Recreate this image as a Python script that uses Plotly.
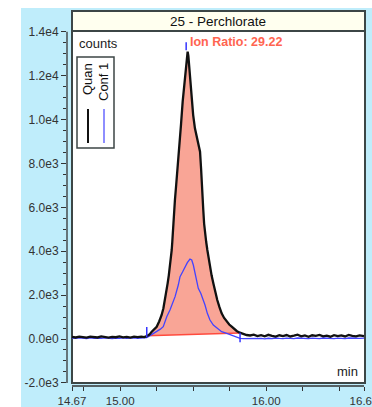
import plotly.graph_objects as go

# ---- chromatogram data: 25 - Perchlorate (retention time in min, intensity in counts) ----
left_times = [14.670, 14.695, 14.720, 14.745, 14.770, 14.795, 14.820, 14.845, 14.870, 14.895,
              14.920, 14.945, 14.970, 14.995, 15.020, 15.045, 15.070, 15.095, 15.120, 15.145, 15.165]
right_times = [15.890, 15.915, 15.940, 15.965, 15.990, 16.015, 16.040, 16.065, 16.090, 16.115,
               16.140, 16.165, 16.190, 16.215, 16.240, 16.265, 16.290, 16.315, 16.340, 16.365,
               16.390, 16.415, 16.440, 16.465, 16.490, 16.515, 16.540, 16.565, 16.590, 16.615,
               16.640, 16.670]

# Quan trace
quan_left = [95, 70, 105, 80, 60, 110, 85, 70, 120, 90, 65, 100, 80, 115, 75, 95, 60, 105, 85, 110, 90]
quan_peak_time = [15.182, 15.200, 15.216, 15.233, 15.250, 15.267, 15.284, 15.296, 15.307, 15.316,
                  15.325, 15.333, 15.341, 15.347, 15.353, 15.357, 15.360, 15.365, 15.369, 15.375,
                  15.384, 15.394, 15.405, 15.417, 15.428, 15.440, 15.450, 15.458, 15.462, 15.467,
                  15.476, 15.483, 15.490, 15.500, 15.512, 15.524, 15.535, 15.547, 15.554, 15.562,
                  15.569, 15.575, 15.581, 15.589, 15.597, 15.606, 15.615, 15.626, 15.638, 15.651,
                  15.665, 15.680, 15.695, 15.712, 15.730, 15.747, 15.764, 15.781, 15.798, 15.815,
                  15.832, 15.849, 15.866]
quan_peak = [130, 200, 333, 440, 560, 800, 1093, 1400, 1777, 2150,
             2537, 2900, 3295, 3680, 4055, 4430, 4815, 5300, 5572, 6333,
             7050, 7790, 8800, 9800, 10810, 11700, 12500, 13000, 13090, 12900,
             12100, 11400, 10810, 10200, 9600, 9200, 8840, 8530, 7777, 7016,
             5900, 5250, 4815, 4430, 4055, 3650, 3295, 2900, 2537, 2150,
             1777, 1450, 1170, 960, 790, 660, 560, 450, 365, 300,
             260, 210, 182]
quan_right = [160, 200, 130, 175, 120, 190, 145, 110, 170, 135, 180, 115, 150, 195, 125, 160,
              100, 170, 140, 185, 120, 155, 105, 175, 130, 160, 115, 185, 140, 120, 165, 135]

# Conf 1 trace
conf_left = [40, 25, 55, 35, 20, 50, 30, 45, 25, 55, 35, 20, 45, 30, 50, 25, 40, 55, 30, 45, 35]
conf_peak_time = [15.182, 15.215, 15.250, 15.275, 15.295, 15.319, 15.341, 15.357, 15.376, 15.398,
                  15.410, 15.428, 15.444, 15.460, 15.478, 15.490, 15.501, 15.517, 15.535, 15.552,
                  15.565, 15.581, 15.597, 15.615, 15.638, 15.665, 15.695, 15.730, 15.764, 15.798,
                  15.821, 15.845, 15.865]
conf_peak = [60, 200, 333, 450, 560, 1016, 1321, 1625, 1929, 2460,
             2840, 3066, 3295, 3478, 3645, 3600, 3371, 2916, 2310, 2082,
             1854, 1549, 1170, 866, 638, 487, 333, 258, 182, 105,
             32, 20, 25]
conf_right = [30, 15, 40, 25, 10, 35, 20, 45, 25, 15, 40, 30, 20, 45, 25, 35,
              15, 40, 30, 20, 45, 25, 35, 15, 40, 30, 20, 45, 25, 35, 30, 40]

# integration window and its baseline
window_time = [15.182, 15.821]
baseline_counts = [150, 270]
ion_ratio = 29.22

# axis ticks
y_tick_vals = [-2000, 0, 2000, 4000, 6000, 8000, 10000, 12000, 14000]
y_tick_text = ["-2.0e3", "0.0e0", "2.0e3", "4.0e3", "6.0e3", "8.0e3", "1.0e4", "1.2e4", "1.4e4"]
x_tick_vals = [14.67, 15.00, 16.00, 16.67]
x_tick_text = ["14.67", "15.00", "16.00", "16.67"]
x_minor_vals = [14.75, 15.25, 15.50, 15.75, 16.25, 16.50]

quan_time = left_times + quan_peak_time + right_times
quan_counts = quan_left + quan_peak + quan_right
conf_time = left_times + conf_peak_time + right_times
conf_counts = conf_left + conf_peak + conf_right

# ---- page geometry ----
W, H = 372, 407
ML, MR, MT, MB = 67, 7, 31, 21
PW, PH = W - ML - MR, H - MT - MB
X_RANGE = [14.63575, 16.67685]
Y_RANGE = [-2141, 14032]

SKY = "#BFEDFB"
INK = "#333333"
FRAME = "#3c4646"
FONT = "Arial, Liberation Sans, sans-serif"


def px(xp):
    return (xp - ML) / PW


def py(yp):
    return (H - MB - yp) / PH


def xpaper(t):
    return (t - X_RANGE[0]) / (X_RANGE[1] - X_RANGE[0])


def ypaper(v):
    return (v - Y_RANGE[0]) / (Y_RANGE[1] - Y_RANGE[0])


fig = go.Figure()

# integrated area between the Quan trace and the baseline
fill_x = [window_time[0]] + [t for t in quan_time if window_time[0] <= t <= window_time[1]]
fill_y = [baseline_counts[0]] + [v for t, v in zip(quan_time, quan_counts)
                                 if window_time[0] <= t <= window_time[1]]
fill_x += [window_time[1], window_time[1], window_time[0]]
fill_y += [baseline_counts[1], baseline_counts[1], baseline_counts[0]]
fig.add_trace(go.Scatter(x=fill_x, y=fill_y, mode="lines", fill="toself",
                         fillcolor="#F9A596", line=dict(width=0), hoverinfo="skip"))
fig.add_trace(go.Scatter(x=window_time, y=baseline_counts, mode="lines",
                         line=dict(color="#FF4A3D", width=1.5), hoverinfo="skip"))
fig.add_trace(go.Scatter(x=conf_time, y=conf_counts, mode="lines", name="Conf 1",
                         line=dict(color="#4343FF", width=1.3)))
fig.add_trace(go.Scatter(x=quan_time, y=quan_counts, mode="lines", name="Quan",
                         line=dict(color="#111111", width=2.3)))

apex_i = max(range(len(quan_counts)), key=lambda i: quan_counts[i])
apex_t, apex_v = quan_time[apex_i], quan_counts[apex_i]

shapes = [
    # white strips at the page edge
    dict(type="rect", xref="paper", yref="paper", x0=px(0), x1=px(21), y0=py(H), y1=py(0),
         fillcolor="white", line=dict(width=0), layer="below"),
    dict(type="rect", xref="paper", yref="paper", x0=px(0), x1=px(W), y0=py(8), y1=py(0),
         fillcolor="white", line=dict(width=0), layer="below"),
    # chart frame
    dict(type="rect", xref="paper", yref="paper", x0=xpaper(14.67), x1=px(365),
         y0=ypaper(-2000), y1=py(31), fillcolor="white", line=dict(color=FRAME, width=2),
         layer="below"),
    # title box
    dict(type="rect", xref="paper", yref="paper", x0=xpaper(14.67), x1=px(365),
         y0=py(31), y1=py(11), fillcolor="#FFFFEF", line=dict(color=FRAME, width=2)),
    # axis lines
    dict(type="line", xref="paper", yref="paper", x0=0, x1=0,
         y0=ypaper(-2000), y1=ypaper(14000), line=dict(color=INK, width=1.3)),
    dict(type="line", xref="paper", yref="paper", x0=xpaper(14.67), x1=xpaper(16.67),
         y0=0, y1=0, line=dict(color=INK, width=1.3)),
    # legend box
    dict(type="rect", xref="paper", yref="paper", x0=px(77), x1=px(114), y0=py(148), y1=py(57),
         fillcolor="white", line=dict(color=FRAME, width=1.5)),
    dict(type="line", xref="paper", yref="paper", x0=px(88), x1=px(88), y0=py(143), y1=py(109),
         line=dict(color="#111111", width=2)),
    dict(type="line", xref="paper", yref="paper", x0=px(104), x1=px(104), y0=py(143), y1=py(109),
         line=dict(color="#7272FF", width=1.6)),
    # peak markers: start, end, apex
    dict(type="line", xref="x", yref="y", x0=window_time[0], x1=window_time[0],
         y0=baseline_counts[0] - 60, y1=baseline_counts[0] + 400, line=dict(color="#3535FF", width=1.5)),
    dict(type="line", xref="x", yref="y", x0=window_time[1], x1=window_time[1],
         y0=baseline_counts[1] - 420, y1=baseline_counts[1] + 20, line=dict(color="#3535FF", width=1.5)),
    dict(type="line", xref="x", yref="y", x0=apex_t - 0.01, x1=apex_t - 0.01,
         y0=apex_v + 60, y1=apex_v + 430, line=dict(color="#3535FF", width=1.5)),
]

annotations = [
    dict(text="25 - Perchlorate", xref="paper", yref="paper", x=px(218), y=py(21),
         xanchor="center", yanchor="middle", showarrow=False, font=dict(size=13.5, color="#111111")),
    dict(text="counts", xref="paper", yref="paper", x=px(77), y=py(44),
         xanchor="left", yanchor="middle", showarrow=False, font=dict(size=13, color="#222222")),
    dict(text="min", xref="paper", yref="paper", x=px(360), y=py(371),
         xanchor="right", yanchor="middle", showarrow=False, font=dict(size=13, color="#222222")),
    dict(text=f"<b>Ion Ratio: {ion_ratio:.2f}</b>", xref="x", yref="paper", x=apex_t, xshift=0,
         y=py(42), xanchor="left", yanchor="middle", showarrow=False,
         font=dict(size=12.5, color="#FF6450")),
    dict(text="Quan", xref="paper", yref="paper", x=px(87), y=py(61), textangle=-90,
         xanchor="center", yanchor="top", showarrow=False, font=dict(size=13, color="#111111")),
    dict(text="Conf 1", xref="paper", yref="paper", x=px(103), y=py(61), textangle=-90,
         xanchor="center", yanchor="top", showarrow=False, font=dict(size=13, color="#111111")),
]

fig.update_layout(
    width=W, height=H,
    margin=dict(l=ML, r=MR, t=MT, b=MB, pad=0, autoexpand=False),
    paper_bgcolor=SKY, plot_bgcolor=SKY,
    showlegend=False,
    font=dict(family=FONT, size=12, color=INK),
    shapes=shapes, annotations=annotations,
    xaxis=dict(range=X_RANGE, tickmode="array", tickvals=x_tick_vals, ticktext=x_tick_text,
               ticks="outside", ticklen=4, tickwidth=1.3, tickcolor=INK, showgrid=False,
               zeroline=False, showline=False, fixedrange=True, ticklabeloverflow="allow",
               tickfont=dict(family=FONT, size=11.5, color=INK),
               minor=dict(tickmode="array", tickvals=x_minor_vals, ticks="outside",
                          ticklen=4, tickwidth=1.3, tickcolor=INK, showgrid=False)),
    yaxis=dict(range=Y_RANGE, tickmode="array", tickvals=y_tick_vals, ticktext=y_tick_text,
               ticks="outside", ticklen=5, tickwidth=1.3, tickcolor=INK, showgrid=False,
               zeroline=False, showline=False, fixedrange=True,
               tickfont=dict(family=FONT, size=12, color=INK),
               minor=dict(dtick=500, tick0=0, ticks="outside", ticklen=3, tickwidth=1.1,
                          tickcolor=INK, showgrid=False)),
)

fig.write_html("out.html")
